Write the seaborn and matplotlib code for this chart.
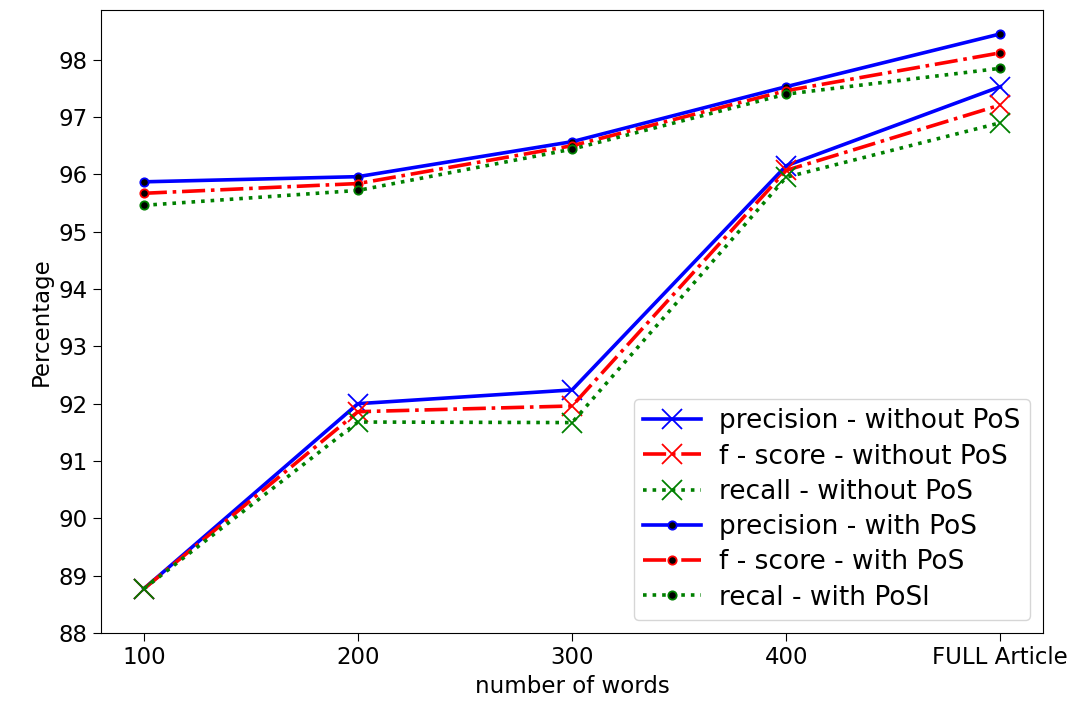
import pandas as pd
import matplotlib
matplotlib.use("Agg")
import matplotlib.pyplot as plt
import seaborn as sns

words = ["100", "200", "300", "400", "FULL Article"]

precision_without = [88.77, 92.0, 92.24, 96.15, 97.53]
fscore_without = [88.77, 91.86, 91.96, 96.07, 97.21]
recall_without = [88.77, 91.68, 91.67, 95.95, 96.90]

precision_with = [95.87, 95.96, 96.57, 97.53, 98.45]
fscore_with = [95.67, 95.84, 96.50, 97.46, 98.12]
recall_with = [95.46, 95.72, 96.44, 97.40, 97.85]

plt.rcParams["font.family"] = ["DejaVu Sans"]

fig, ax = plt.subplots(figsize=(10.81, 7.03), dpi=100)
fig.subplots_adjust(left=0.0934, right=0.965, top=0.986, bottom=0.0996)

series = [
    ("precision - without PoS", precision_without, "blue", "-", "x"),
    ("f - score - without PoS", fscore_without, "red", "-.", "x"),
    ("recall - without PoS", recall_without, "green", ":", "x"),
    ("precision - with PoS", precision_with, "blue", "-", "o"),
    ("f - score - with PoS", fscore_with, "red", "-.", "o"),
    ("recal - with PoSl", recall_with, "green", ":", "o"),
]

for label, values, color, style, mark in series:
    df = pd.DataFrame({"words": words, "value": values})
    if mark == "x":
        sns.lineplot(data=df, x="words", y="value", ax=ax, color=color,
                     linestyle=style, linewidth=2.6, marker="x",
                     markersize=15, markeredgecolor=color, markeredgewidth=1.3,
                     label=label, sort=False)
    else:
        sns.lineplot(data=df, x="words", y="value", ax=ax, color=color,
                     linestyle=style, linewidth=2.6, marker="o",
                     markersize=6, markerfacecolor="black",
                     markeredgecolor=color, markeredgewidth=1.3,
                     label=label, sort=False)

ax.set_ylim(88, 98.87)
ax.set_yticks(range(88, 99))
ax.set_xlabel("number of words", fontsize=16.5)
ax.set_ylabel("Percentage", fontsize=16.5)
ax.tick_params(labelsize=16.5, length=6)
ax.legend(loc="lower right", fontsize=19, framealpha=0.8,
          labelspacing=0.35, borderaxespad=0.5, handlelength=2.2,
          handletextpad=0.7, borderpad=0.35)

plt.savefig("out.png", dpi=100)
